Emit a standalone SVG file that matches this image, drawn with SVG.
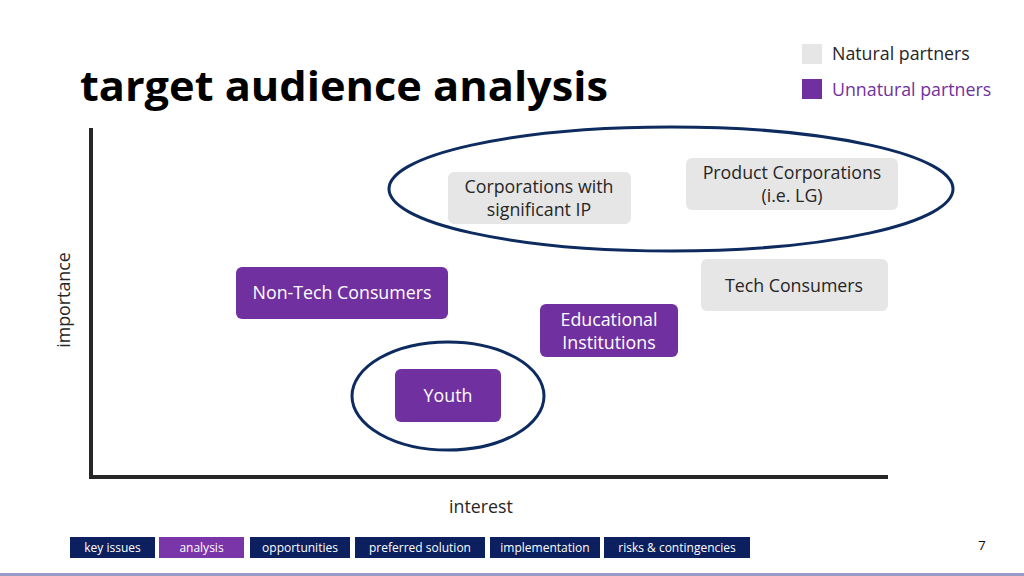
<svg xmlns="http://www.w3.org/2000/svg" width="1024" height="576" viewBox="0 0 1024 576">
<style>
text{font-family:"Open Sans","DejaVu Sans",sans-serif;}
.lbl{font-size:17.8px;text-anchor:middle;}
.gray{fill:#e6e6e6;}
.purple{fill:#7030a0;}
.dk{fill:#262626;}
.wt{fill:#ffffff;}
.tab{fill:#0c1f5e;}
.tabt{font-size:12px;fill:#ffffff;text-anchor:middle;}
.ring{fill:none;stroke:#0d2b5e;stroke-width:3;}
</style>
<rect width="1024" height="576" fill="#ffffff"/>
<text x="80" y="101" font-size="41" font-weight="bold" fill="#000" textLength="528" lengthAdjust="spacingAndGlyphs">target audience analysis</text>
<g id="legend">
<rect x="802" y="44" width="20" height="20" class="gray"/>
<text x="832" y="60" font-size="17.8" fill="#262626">Natural partners</text>
<rect x="802" y="79" width="20" height="20" class="purple"/>
<text x="832" y="96" font-size="17.8" fill="#7030a0">Unnatural partners</text>
</g>
<g id="axes">
<line x1="91" y1="128" x2="91" y2="479" stroke="#262626" stroke-width="4"/>
<line x1="89" y1="477" x2="888" y2="477" stroke="#262626" stroke-width="4"/>
<text x="70" y="300" font-size="17.8" fill="#262626" text-anchor="middle" transform="rotate(-90 70 300)">importance</text>
<text x="481" y="513" font-size="17.8" fill="#262626" text-anchor="middle">interest</text>
</g>
<g id="connectors">
<ellipse cx="671" cy="189" rx="282" ry="62" class="ring"/>
<ellipse cx="448" cy="396" rx="96" ry="54" class="ring"/>
</g>
<g id="corp-ip">
<rect x="448" y="172" width="183" height="52" rx="6" class="gray"/>
<text x="539" y="193" class="lbl dk">Corporations with</text>
<text x="539" y="216" class="lbl dk">significant IP</text>
</g>
<g id="product-corp">
<rect x="686" y="158" width="212" height="52" rx="6" class="gray"/>
<text x="792" y="179" class="lbl dk">Product Corporations</text>
<text x="792" y="202" class="lbl dk">(i.e. LG)</text>
</g>
<g id="tech-consumers">
<rect x="701" y="259" width="187" height="52" rx="6" class="gray"/>
<text x="794" y="292" class="lbl dk">Tech Consumers</text>
</g>
<g id="non-tech-consumers">
<rect x="236" y="267" width="212" height="52" rx="6" class="purple"/>
<text x="342" y="299" class="lbl wt">Non-Tech Consumers</text>
</g>
<g id="educational">
<rect x="540" y="304" width="138" height="53" rx="6" class="purple"/>
<text x="609" y="326" class="lbl wt">Educational</text>
<text x="609" y="349" class="lbl wt">Institutions</text>
</g>
<g id="youth">
<rect x="395" y="369" width="106" height="53" rx="6" class="purple"/>
<text x="448" y="402" class="lbl wt">Youth</text>
</g>
<g id="footer">
<rect x="70" y="537" width="85" height="21" class="tab"/>
<text x="112.5" y="552" class="tabt">key issues</text>
<rect x="159" y="537" width="85" height="21" fill="#7a35a8"/>
<text x="201.5" y="552" class="tabt">analysis</text>
<rect x="250" y="537" width="100" height="21" class="tab"/>
<text x="300" y="552" class="tabt">opportunities</text>
<rect x="355" y="537" width="130" height="21" class="tab"/>
<text x="420" y="552" class="tabt">preferred solution</text>
<rect x="490" y="537" width="110" height="21" class="tab"/>
<text x="545" y="552" class="tabt">implementation</text>
<rect x="604" y="537" width="146" height="21" class="tab"/>
<text x="677" y="552" class="tabt">risks &amp; contingencies</text>
<text x="982" y="550" font-size="13" fill="#000" text-anchor="middle">7</text>
<rect x="0" y="573" width="1024" height="3" fill="#9a9ac8"/>
</g>
</svg>
